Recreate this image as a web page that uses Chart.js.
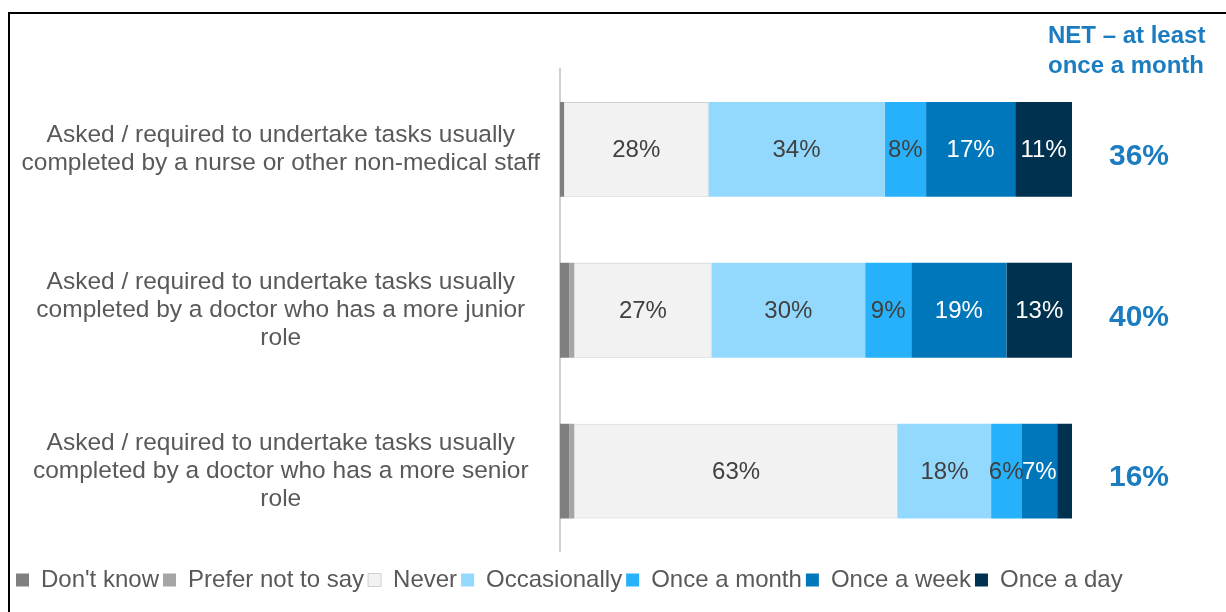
<!DOCTYPE html>
<html>
<head>
<meta charset="utf-8">
<script src="https://cdn.jsdelivr.net/npm/chart.js@4.4.1/dist/chart.umd.min.js"></script>
<style>
  html, body { margin: 0; padding: 0; background: #fff; overflow: hidden; }
  #frame { position: absolute; left: 8px; top: 12px; width: 1400px; height: 800px;
           border-left: 2px solid #000; border-top: 2px solid #000; }
  #wrap { position: absolute; left: 0; top: 0; width: 1226px; height: 612px; }
</style>
</head>
<body>
<div id="frame"></div>
<div id="wrap"><canvas id="chart" width="1226" height="612"></canvas></div>
<script>
// Data
const categories = [
    ['Asked / required to undertake tasks usually', 'completed by a nurse or other non-medical staff'],
    ['Asked / required to undertake tasks usually', 'completed by a doctor who has a more junior', 'role'],
    ['Asked / required to undertake tasks usually', 'completed by a doctor who has a more senior', 'role']
];
const dontKnow = [0.8, 1.8, 1.8];
const preferNot = [0, 1.0, 1.0];
const never = [28.2, 26.8, 63.2];
const occasionally = [34.4, 30.0, 18.2];
const onceMonth = [8.1, 9.0, 5.9];
const onceWeek = [17.4, 18.6, 7.0];
const onceDay = [11.1, 12.8, 2.9];
const netMonth = [36, 40, 16];
const netHeader = ['NET \u2013 at least', 'once a month'];

const FONT = '"Liberation Sans", Arial, sans-serif';
const NET_BLUE = '#1C7CC0';

// segment labels (percent, rounded) drawn on the bars
const barLabels = {
    id: 'barLabels',
    afterDatasetsDraw(chart) {
        const ctx = chart.ctx;
        ctx.save();
        ctx.font = '24px ' + FONT;
        ctx.textAlign = 'center';
        ctx.textBaseline = 'middle';
        chart.data.datasets.forEach((ds, i) => {
            if (!ds.labelColor) return;
            const meta = chart.getDatasetMeta(i);
            meta.data.forEach((bar, j) => {
                const v = ds.data[j];
                if (v < 4) return;
                ctx.fillStyle = ds.labelColor;
                ctx.fillText(Math.round(v) + '%', (bar.x + bar.base) / 2, bar.y + 1);
            });
        });
        ctx.restore();
    }
};

// NET column on the right
const netColumn = {
    id: 'netColumn',
    afterDraw(chart) {
        const ctx = chart.ctx;
        const y = chart.scales.y;
        ctx.save();
        ctx.fillStyle = NET_BLUE;
        ctx.font = 'bold 24px ' + FONT;
        ctx.textAlign = 'left';
        ctx.textBaseline = 'middle';
        netHeader.forEach((t, i) => ctx.fillText(t, 1048, 36 + i * 30));
        ctx.font = 'bold 30px ' + FONT;
        ctx.textAlign = 'center';
        netMonth.forEach((v, i) => {
            ctx.fillText(v + '%', 1139, y.getPixelForValue(i) + 7);
        });
        ctx.restore();
    }
};

function ds(label, data, color, labelColor, extra) {
    return Object.assign({
        label: label,
        data: data,
        backgroundColor: color,
        borderWidth: 0,
        labelColor: labelColor
    }, extra || {});
}

const ctx = document.getElementById('chart').getContext('2d');
const chart = new Chart(ctx, {
    type: 'bar',
    data: {
        labels: categories,
        datasets: [
            ds("Don't know", dontKnow, '#7F7F7F', null),
            ds('Prefer not to say', preferNot, '#A6A6A6', null),
            ds('Never', never, '#F2F2F2', '#404040', { borderWidth: 1, borderColor: '#D0D0D0' }),
            ds('Occasionally', occasionally, '#93D9FE', '#404040'),
            ds('Once a month', onceMonth, '#27B1FA', '#404040'),
            ds('Once a week', onceWeek, '#0077BA', '#FFFFFF'),
            ds('Once a day', onceDay, '#00314F', '#FFFFFF')
        ]
    },
    options: {
        indexAxis: 'y',
        responsive: false,
        animation: false,
        devicePixelRatio: 1,
        categoryPercentage: 1,
        barPercentage: 0.59,
        layout: { padding: { left: 12, right: 0, top: 69, bottom: 10 } },
        scales: {
            x: {
                stacked: true,
                min: 0,
                max: 100,
                ticks: { display: false },
                grid: { display: false, drawTicks: false },
                border: { display: false },
                afterFit(scale) { scale.height = 12.5; }
            },
            y: {
                stacked: true,
                grid: { display: false, drawTicks: false, tickLength: 0 },
                border: { display: true, color: '#D0D0D0', width: 2 },
                ticks: {
                    crossAlign: 'center',
                    padding: 20,
                    color: '#595959',
                    font: { family: FONT, size: 24.5, lineHeight: 1.14 }
                },
                afterFit(scale) { scale.width = 548; }
            },
            // empty right-hand band that holds the NET column
            net: {
                type: 'category',
                position: 'right',
                labels: categories,
                grid: { display: false, drawTicks: false },
                border: { display: false },
                ticks: { display: false },
                afterFit(scale) { scale.width = 154; }
            }
        },
        plugins: {
            legend: {
                position: 'bottom',
                align: 'start',
                labels: {
                    boxWidth: 13,
                    boxHeight: 13,
                    padding: 4,
                    color: '#595959',
                    font: { family: FONT, size: 24 }
                }
            },
            tooltip: { enabled: false }
        }
    },
    plugins: [barLabels, netColumn]
});
</script>
</body>
</html>
